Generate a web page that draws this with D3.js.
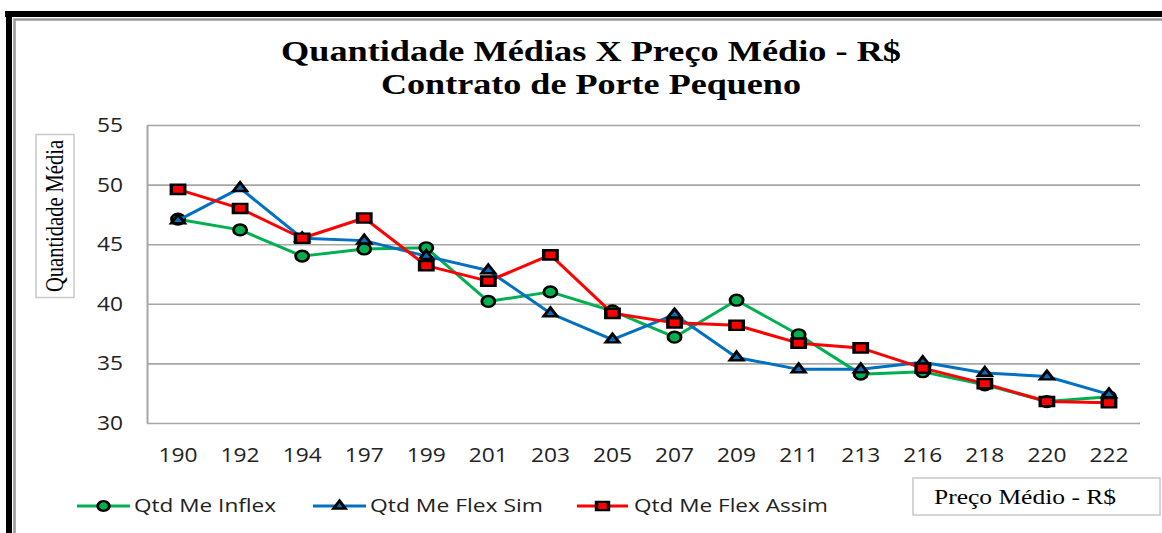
<!DOCTYPE html>
<html>
<head>
<meta charset="utf-8">
<script src="https://cdn.jsdelivr.net/npm/d3@7"></script>
<style>
  body { margin: 0; background: #fff; }
  svg { display: block; }
</style>
</head>
<body>
<svg class="target" width="1162" height="533"></svg>
<script>
const categories = ["190", "192", "194", "197", "199", "201", "203", "205",
  "207", "209", "211", "213", "216", "218", "220", "222"];
const inflex = [47.1, 46.2, 44.0, 44.6, 44.7, 40.2, 41.0, 39.4,
  37.2, 40.3, 37.4, 34.1, 34.3, 33.2, 31.8, 32.2];
const flexSim = [47.0, 49.7, 45.5, 45.3, 44.0, 42.8, 39.2, 37.0,
  39.1, 35.5, 34.5, 34.5, 35.1, 34.2, 33.9, 32.4];
const flexAssim = [49.6, 48.0, 45.5, 47.2, 43.2, 41.9, 44.1, 39.2,
  38.4, 38.2, 36.7, 36.3, 34.6, 33.3, 31.8, 31.7];
const yTicks = [30, 35, 40, 45, 50, 55];

const series = [
  { name: "Qtd Me Inflex", values: inflex, color: "#00B050", shape: "circle" },
  { name: "Qtd Me Flex Sim", values: flexSim, color: "#0070C0", shape: "triangle" },
  { name: "Qtd Me Flex Assim", values: flexAssim, color: "#FF0000", shape: "square" },
];

const svg = d3.select(".target");
const plotLeft = 147, plotRight = 1140, plotTop = 125, plotBottom = 423;

// frame
svg.append("rect").attr("x", 5).attr("y", 11).attr("width", 1157).attr("height", 6).attr("fill", "#000");
svg.append("rect").attr("x", 6).attr("y", 11).attr("width", 6).attr("height", 522).attr("fill", "#000");
svg.append("path").attr("d", "M14.5,533 V19.5 H1162").attr("fill", "none")
  .attr("stroke", "#999").attr("stroke-width", 2.5);

// title
const title = svg.append("g").attr("font-family", "Liberation Serif, Times New Roman, serif")
  .attr("font-weight", "bold").attr("font-size", 30).attr("text-anchor", "middle");
title.append("text").attr("x", 591).attr("y", 61).attr("textLength", 620)
  .attr("lengthAdjust", "spacingAndGlyphs").text("Quantidade Médias X Preço Médio - R$");
title.append("text").attr("x", 591).attr("y", 94).attr("textLength", 420)
  .attr("lengthAdjust", "spacingAndGlyphs").text("Contrato de Porte Pequeno");

const x = d3.scaleBand().domain(categories).range([plotLeft, plotRight]);
const cx = (c) => x(c) + x.bandwidth() / 2;
const y = d3.scaleLinear().domain([30, 55]).range([plotBottom, plotTop]);

// y axis + gridlines
const ya = svg.append("g").attr("transform", `translate(${plotLeft},0)`)
  .call(d3.axisLeft(y).tickValues(yTicks).tickSize(-(plotRight - plotLeft)).tickSizeOuter(0).tickPadding(24));
ya.select(".domain").attr("stroke", "#A6A6A6").attr("stroke-width", 2);
ya.selectAll(".tick line").attr("stroke", "#A6A6A6").attr("stroke-width", 1.6);
ya.selectAll(".tick text").attr("font-family", "Open Sans, sans-serif").attr("font-size", 20)
  .attr("fill", "#222").attr("textLength", 26).attr("lengthAdjust", "spacingAndGlyphs");

// x axis labels
const xa = svg.append("g").attr("transform", `translate(0,${plotBottom})`)
  .call(d3.axisBottom(x).tickSize(0).tickPadding(25));
xa.select(".domain").remove();
xa.selectAll(".tick text").attr("font-family", "Open Sans, sans-serif").attr("font-size", 20)
  .attr("fill", "#222").attr("textLength", 39).attr("lengthAdjust", "spacingAndGlyphs");

// y axis title box
svg.append("rect").attr("x", 36).attr("y", 134.5).attr("width", 38).attr("height", 163)
  .attr("fill", "#fff").attr("stroke", "#C8C8C8").attr("stroke-width", 1.5);
svg.append("text").attr("transform", "translate(63,216) rotate(-90)")
  .attr("text-anchor", "middle").attr("font-family", "Liberation Serif, Times New Roman, serif")
  .attr("font-size", 25).attr("textLength", 152).attr("lengthAdjust", "spacingAndGlyphs")
  .text("Quantidade Média");

// x axis title box
svg.append("rect").attr("x", 913).attr("y", 478).attr("width", 247).attr("height", 37)
  .attr("fill", "#fff").attr("stroke", "#C8C8C8").attr("stroke-width", 1.5);
svg.append("text").attr("x", 934).attr("y", 504)
  .attr("font-family", "Liberation Serif, Times New Roman, serif")
  .attr("font-size", 22).attr("textLength", 182).attr("lengthAdjust", "spacingAndGlyphs")
  .text("Preço Médio - R$");

const symbols = {
  circle: { type: d3.symbolCircle, size: 92, sx: 1.2 },
  triangle: { type: d3.symbolTriangle, size: 42, sx: 1.35 },
  square: { type: d3.symbolSquare, size: 85, sx: 1.45 },
};

const line = d3.line().x((d) => cx(d.c)).y((d) => y(d.v));

series.forEach((s) => {
  const pts = categories.map((c, i) => ({ c: c, v: s.values[i] }));
  const sym = symbols[s.shape];
  svg.append("path").datum(pts).attr("d", line).attr("fill", "none")
    .attr("stroke", s.color).attr("stroke-width", 3).attr("stroke-linejoin", "round");
  svg.append("g").selectAll("path").data(pts).enter().append("path")
    .attr("d", d3.symbol().type(sym.type).size(sym.size))
    .attr("transform", (d) => `translate(${cx(d.c)},${y(d.v)}) scale(${sym.sx},1)`)
    .attr("fill", s.color).attr("stroke", "#000").attr("stroke-width", 2.4);
});

// legend
const legendPos = [
  { x0: 77, x1: 130, tx: 134, tl: 142 },
  { x0: 313, x1: 366, tx: 370, tl: 173 },
  { x0: 577, x1: 628, tx: 634, tl: 194 },
];
series.forEach((s, i) => {
  const p = legendPos[i];
  const sym = symbols[s.shape];
  const g = svg.append("g");
  g.append("line").attr("x1", p.x0).attr("x2", p.x1).attr("y1", 506).attr("y2", 506)
    .attr("stroke", s.color).attr("stroke-width", 3);
  g.append("path").attr("d", d3.symbol().type(sym.type).size(sym.size * 0.8))
    .attr("transform", `translate(${(p.x0 + p.x1) / 2},506) scale(${sym.sx},1)`)
    .attr("fill", s.color).attr("stroke", "#000").attr("stroke-width", 2.4);
  g.append("text").attr("x", p.tx).attr("y", 512).attr("font-family", "Open Sans, sans-serif")
    .attr("font-size", 19).attr("fill", "#222").attr("textLength", p.tl)
    .attr("lengthAdjust", "spacingAndGlyphs").text(s.name);
});
</script>
</body>
</html>
